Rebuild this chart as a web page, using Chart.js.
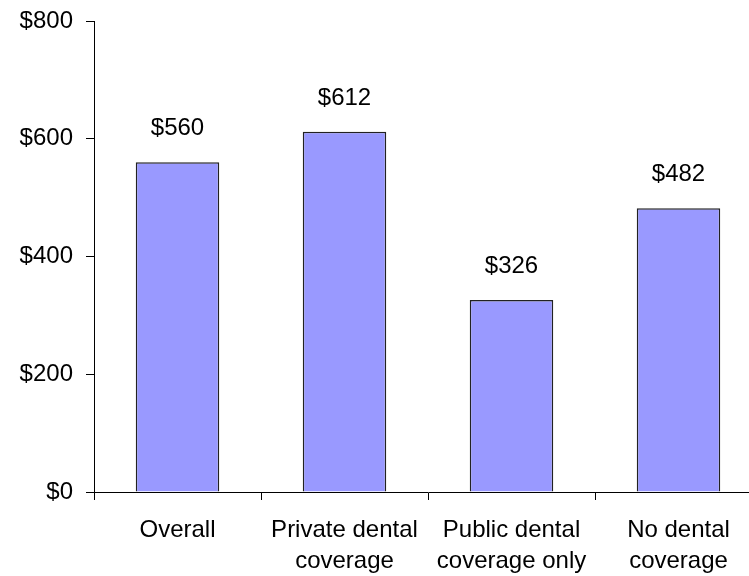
<!DOCTYPE html>
<html>
<head>
<meta charset="utf-8">
<script src="https://cdn.jsdelivr.net/npm/chart.js@4.4.1/dist/chart.umd.min.js"></script>
<style>
  html, body { margin: 0; padding: 0; background: #fff; overflow: hidden; }
  #wrap { width: 749px; height: 576px; overflow: hidden; }
</style>
</head>
<body>
<div id="wrap"><canvas id="chart-area" width="770" height="576"></canvas></div>
<script>
var categories = [
    ["Overall"],
    ["Private dental", "coverage"],
    ["Public dental", "coverage only"],
    ["No dental", "coverage"]
];
var costs = [560, 612, 326, 482];
var yTicks = [0, 200, 400, 600, 800];

var FONT = "'Liberation Sans', Arial, sans-serif";

// writes the $ value above each bar
var valueLabels = {
    id: "valueLabels",
    afterDatasetsDraw: function (chart) {
        var ctx = chart.ctx;
        var meta = chart.getDatasetMeta(0);
        ctx.save();
        ctx.font = "24px " + FONT;
        ctx.fillStyle = "#000";
        ctx.textAlign = "center";
        ctx.textBaseline = "alphabetic";
        meta.data.forEach(function (bar, i) {
            ctx.fillText("$" + costs[i], bar.x, bar.y - 27);
        });
        ctx.restore();
    }
};

var ctx = document.getElementById("chart-area").getContext("2d");
var myGraph = new Chart(ctx, {
    type: "bar",
    data: {
        labels: categories,
        datasets: [{
            data: costs,
            backgroundColor: "#9999FF",
            borderColor: "#222",
            borderWidth: 1.5,
            barPercentage: 0.5,
            categoryPercentage: 1.0
        }]
    },
    options: {
        responsive: false,
        animation: false,
        devicePixelRatio: 1,
        layout: { padding: { top: 21, right: 8, bottom: 0, left: 0 } },
        plugins: {
            legend: { display: false },
            title: { display: false },
            tooltip: { enabled: false }
        },
        scales: {
            x: {
                grid: {
                    offset: true,
                    drawOnChartArea: false,
                    drawTicks: true,
                    tickLength: 8,
                    color: "#000"
                },
                border: { color: "#000", width: 1 },
                ticks: {
                    color: "#000",
                    padding: 15,
                    maxRotation: 0,
                    autoSkip: false,
                    font: { family: FONT, size: 24, lineHeight: 1.3 }
                },
                afterFit: function (axis) {
                    axis.height = 84;
                    axis.paddingLeft = 0;
                    axis.paddingRight = 0;
                }
            },
            y: {
                min: 0,
                max: 800,
                afterBuildTicks: function (axis) {
                    axis.ticks = yTicks.map(function (v) { return { value: v }; });
                },
                grid: {
                    drawOnChartArea: false,
                    drawTicks: true,
                    tickLength: 8,
                    color: "#000"
                },
                border: { color: "#000", width: 1 },
                ticks: {
                    color: "#000",
                    padding: 13,
                    font: { family: FONT, size: 24 },
                    callback: function (v) { return "$" + v; }
                },
                afterFit: function (axis) {
                    axis.width = 94;
                    axis.paddingTop = 0;
                    axis.paddingBottom = 0;
                }
            }
        }
    },
    plugins: [valueLabels]
});
</script>
</body>
</html>
